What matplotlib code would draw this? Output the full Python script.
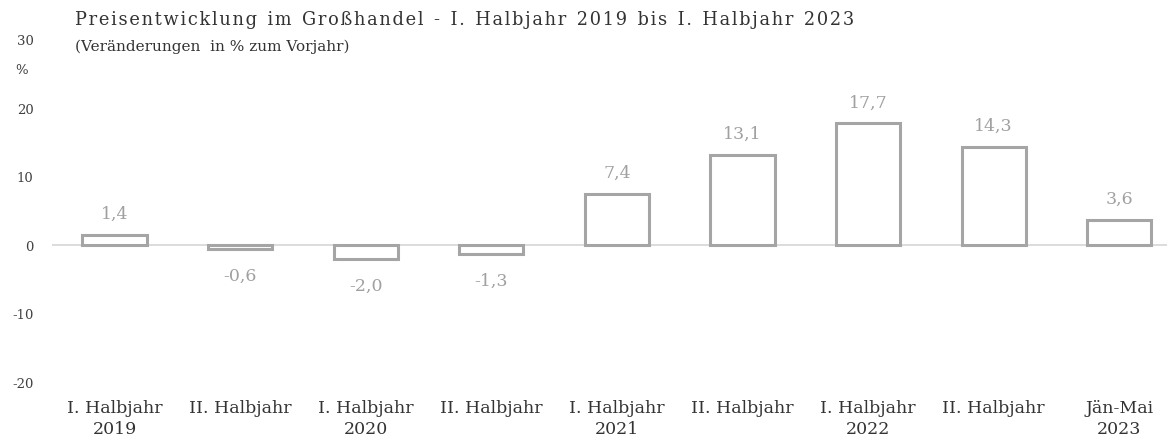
import numpy as np
import matplotlib.pyplot as plt

# Preisentwicklung Großhandel, Veränderung in % zum Vorjahr
categories = ["I. Halbjahr\n2019", "II. Halbjahr", "I. Halbjahr\n2020", "II. Halbjahr",
              "I. Halbjahr\n2021", "II. Halbjahr", "I. Halbjahr\n2022", "II. Halbjahr",
              "Jän-Mai\n2023"]
values = [1.4, -0.6, -2.0, -1.3, 7.4, 13.1, 17.7, 14.3, 3.6]
labels = ["1,4", "-0,6", "-2,0", "-1,3", "7,4", "13,1", "17,7", "14,3", "3,6"]
yticks = [-20, -10, 0, 10, 20, 30]

plt.rcParams['font.family'] = ['DejaVu Serif']

W, H = 1167, 439
fig = plt.figure(figsize=(W / 100, H / 100), dpi=100)
ax = fig.add_axes([51.7 / W, (H - 383) / H, (W - 51.7) / W, (383 - 40) / H])

x = np.arange(len(values))
bar_col = '#a5a5a5'
ax.bar(x, values, width=0.51, facecolor='white', edgecolor=bar_col, linewidth=2.2, zorder=3)
ax.axhline(0, color='#d9d9d9', linewidth=1.3, zorder=2)

for xi, v, t in zip(x, values, labels):
    if v >= 0:
        ax.annotate(t, (xi, v), xytext=(0, 13), textcoords='offset pixels',
                    ha='center', va='bottom', fontsize=12.5, color='#a0a0a0')
    else:
        ax.annotate(t, (xi, v), xytext=(0, -18), textcoords='offset pixels',
                    ha='center', va='top', fontsize=12.5, color='#a0a0a0')

ax.set_xlim(-0.5, (W - 114.5) / 125.6)
ax.set_ylim(-20, 30)
ax.set_yticks(yticks)
ax.set_yticklabels([str(t) for t in yticks], fontsize=9.5, color='#404040')
ax.set_xticks(x)
ax.set_xticklabels(categories, fontsize=12.5, color='#333333', linespacing=1.35)
ax.tick_params(axis='both', length=0)
ax.tick_params(axis='x', pad=12)
ax.tick_params(axis='y', pad=13)
for s in ax.spines.values():
    s.set_visible(False)

title = "Preisentwicklung im Großhandel - I. Halbjahr 2019 bis I. Halbjahr 2023"
spaced = "\u200a".join(title).replace("\u200a \u200a", "\u2009\u2009\u2009")
fig.text(22 / W, 1 - 70 / H, "%", fontsize=9.5, color='#404040', ha='center', va='center')
fig.text(75 / W, 1 - 20 / H, spaced, fontsize=12.8, color='#333333', ha='left', va='center')
fig.text(75 / W, 1 - 47 / H, "(Veränderungen  in % zum Vorjahr)", fontsize=11,
         color='#333333', ha='left', va='center')

fig.savefig("out.png", dpi=100)
